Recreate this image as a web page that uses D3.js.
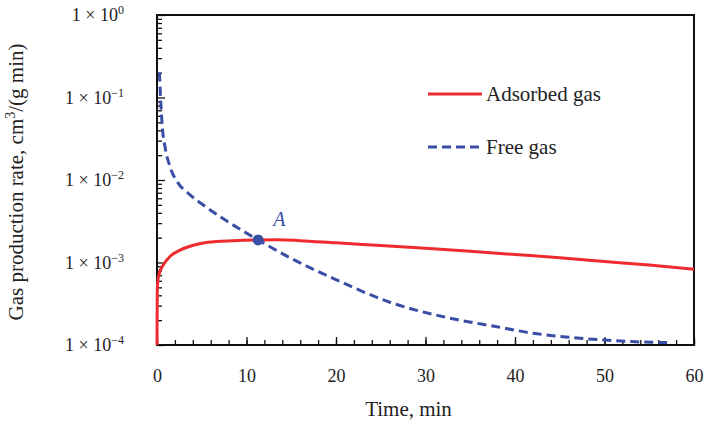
<!DOCTYPE html>
<html>
<head>
<meta charset="utf-8">
<script src="https://cdn.jsdelivr.net/npm/d3@7"></script>
<style>
  body { margin: 0; background: #fff; }
  text { font-family: "Liberation Serif", "DejaVu Serif", serif; fill: #222; }
</style>
</head>
<body>
<div id="chart"></div>
<script>
// time in minutes
const adsorbedTime = [0, 0.03, 0.1, 0.26, 0.7, 1.45, 2.57, 4.06, 5.7, 8.5, 11.3, 13.5, 16, 20, 25, 30, 35, 40, 45, 50, 55, 60];
const adsorbedRate = [1e-4, 4.5e-4, 6e-4, 7.4e-4, 9.3e-4, 1.18e-3, 1.41e-3, 1.62e-3, 1.76e-3, 1.84e-3, 1.88e-3, 1.89e-3, 1.84e-3, 1.73e-3, 1.61e-3, 1.49e-3, 1.37e-3, 1.25e-3, 1.14e-3, 1.03e-3, 0.93e-3, 0.83e-3];

const freeTime = [0.27, 0.33, 0.41, 0.59, 0.89, 1.45, 2.38, 3.5, 5.36, 7.2, 9.1, 11.3, 15, 20, 26, 32, 38, 42, 46, 50, 53, 57];
const freeRate = [0.2, 0.144, 0.093, 0.0443, 0.0254, 0.0145, 0.0091, 0.0069, 0.0048, 0.0035, 0.0026, 1.88e-3, 1.12e-3, 6.2e-4, 3.3e-4, 2.2e-4, 1.66e-4, 1.39e-4, 1.24e-4, 1.15e-4, 1.1e-4, 1.07e-4];

const pointA = { t: 11.3, v: 1.88e-3, label: 'A' };

const xTicks = [0, 10, 20, 30, 40, 50, 60];
const yExponents = [0, -1, -2, -3, -4];

const W = 706, H = 427;
const plot = { left: 157, right: 694, top: 15, bottom: 345 };

const svg = d3.select('#chart').append('svg')
  .attr('width', W).attr('height', H);

const x = d3.scaleLinear().domain([0, 60]).range([plot.left, plot.right]);
const y = d3.scaleLog().domain([1e-4, 1]).range([plot.bottom, plot.top]);

// x ticks (inward)
svg.append('g')
  .attr('transform', `translate(0, ${plot.bottom})`)
  .call(d3.axisBottom(x).tickValues(d3.range(0, 61, 2)).tickSize(-5).tickFormat(''))
  .call(g => g.select('.domain').remove())
  .call(g => g.selectAll('line').attr('stroke', '#111').attr('stroke-width', 1.3));

svg.append('g')
  .attr('transform', `translate(0, ${plot.bottom})`)
  .call(d3.axisBottom(x).tickValues(xTicks).tickSize(-8).tickPadding(24))
  .call(g => g.select('.domain').remove())
  .call(g => g.selectAll('line').attr('stroke', '#111').attr('stroke-width', 1.3))
  .call(g => g.selectAll('text').attr('font-size', 18).attr('fill', '#222'));

// y ticks (log minor + major)
const minorY = [];
yExponents.slice(1).forEach(e => {
  for (let k = 2; k <= 9; k++) minorY.push(k * Math.pow(10, e));
});

svg.append('g')
  .attr('transform', `translate(${plot.left}, 0)`)
  .call(d3.axisLeft(y).tickValues(minorY).tickSize(-5).tickFormat(''))
  .call(g => g.select('.domain').remove())
  .call(g => g.selectAll('line').attr('stroke', '#111').attr('stroke-width', 1.3));

svg.append('g')
  .attr('transform', `translate(${plot.left}, 0)`)
  .call(d3.axisLeft(y).tickValues(yExponents.map(e => Math.pow(10, e))).tickSize(-8).tickFormat(''))
  .call(g => g.select('.domain').remove())
  .call(g => g.selectAll('line').attr('stroke', '#111').attr('stroke-width', 1.3));

// y tick labels 1 × 10^n
const yLab = svg.append('g');
yExponents.forEach(e => {
  const t = yLab.append('text')
    .attr('x', 124)
    .attr('y', y(Math.pow(10, e)) + 6)
    .attr('text-anchor', 'end')
    .attr('font-size', 18);
  t.append('tspan').text('1 \u00d7 10');
  t.append('tspan').attr('font-size', 12).attr('dy', -7).text(e === 0 ? '0' : '\u2212' + (-e));
});

// frame
svg.append('rect')
  .attr('x', plot.left).attr('y', plot.top)
  .attr('width', plot.right - plot.left).attr('height', plot.bottom - plot.top)
  .attr('fill', 'none').attr('stroke', '#111').attr('stroke-width', 2);

const line = d3.line()
  .x(d => x(d[0]))
  .y(d => y(d[1]))
  .curve(d3.curveMonotoneX);

svg.append('path')
  .datum(adsorbedTime.map((t, i) => [t, adsorbedRate[i]]))
  .attr('d', line)
  .attr('fill', 'none')
  .attr('stroke', '#ee2b2e')
  .attr('stroke-width', 3);

svg.append('path')
  .datum(freeTime.map((t, i) => [t, freeRate[i]]))
  .attr('d', line)
  .attr('fill', 'none')
  .attr('stroke', '#3a4ea6')
  .attr('stroke-width', 3)
  .attr('stroke-dasharray', '9,5');

// point A
svg.append('circle')
  .attr('cx', x(pointA.t)).attr('cy', y(pointA.v))
  .attr('r', 5.5)
  .attr('fill', '#3a4ea6');

svg.append('text')
  .attr('x', x(pointA.t) + 15).attr('y', y(pointA.v) - 14)
  .attr('font-size', 20).attr('font-style', 'italic')
  .style('fill', '#3a4ea6')
  .text(pointA.label);

// legend
const legend = [
  { name: 'Adsorbed gas', color: '#ee2b2e', dash: null, y: 94 },
  { name: 'Free gas', color: '#3a4ea6', dash: '9,5', y: 147 }
];
legend.forEach(d => {
  svg.append('line')
    .attr('x1', 428).attr('x2', 482).attr('y1', d.y).attr('y2', d.y)
    .attr('stroke', d.color).attr('stroke-width', 3)
    .attr('stroke-dasharray', d.dash);
  svg.append('text')
    .attr('x', 486).attr('y', d.y + 7)
    .attr('font-size', 21)
    .text(d.name);
});

// axis titles
svg.append('text')
  .attr('x', (plot.left + plot.right) / 2 - 17).attr('y', 416)
  .attr('text-anchor', 'middle')
  .attr('font-size', 21)
  .text('Time, min');

const yt = svg.append('text')
  .attr('transform', 'translate(23, 182) rotate(-90)')
  .attr('text-anchor', 'middle')
  .attr('font-size', 21);
yt.append('tspan').text('Gas production rate, cm');
yt.append('tspan').attr('font-size', 14).attr('dy', -8).text('3');
yt.append('tspan').attr('dy', 8).text('/(g min)');
</script>
</body>
</html>
